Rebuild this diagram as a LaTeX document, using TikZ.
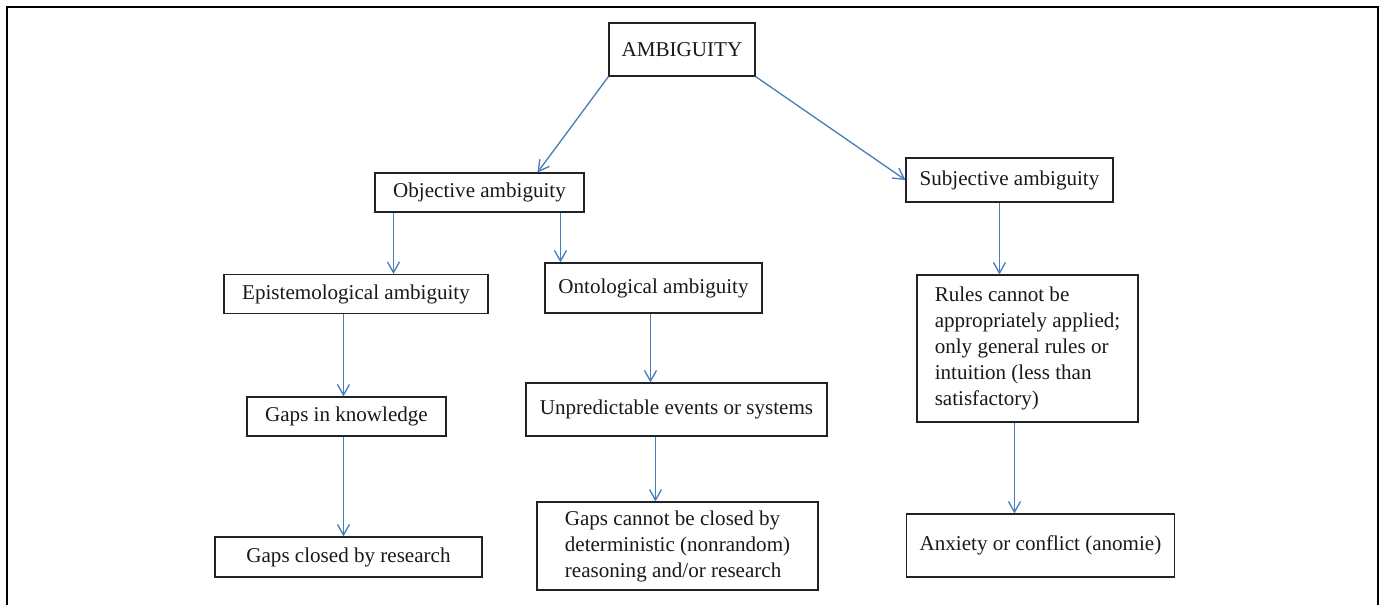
\documentclass[tikz,border=0pt]{standalone}
\usepackage{fontspec}
\setmainfont{Liberation Serif}
\usetikzlibrary{arrows.meta,calc}
\definecolor{arrblue}{HTML}{4A7EBB}
\definecolor{boxline}{HTML}{222222}
\begin{document}
\begin{tikzpicture}[x=0.75pt,y=-0.75pt,
  box/.style={draw=boxline,line width=0.8pt,inner sep=0pt,align=left,
    font=\fontsize{15.8}{19.5}\selectfont,text=black!90},
  wh/.style 2 args={minimum width=#1*0.75pt,minimum height=#2*0.75pt},
  arr/.style={draw=arrblue,line width=1pt,-{Straight Barb[length=8pt,width=9pt,line width=1pt]}}]
\useasboundingbox (0,0) rectangle (1382,605);
\draw[line width=1.6pt] (7,605) -- (7,7) -- (1378,7) -- (1378,605);

\node[box,wh={146}{53}] (amb) at (682,49.5) {AMBIGUITY};
\node[box,wh={209}{39}] (obj) at (479.5,192.5) {Objective ambiguity};
\node[box,wh={207}{44}] (sub) at (1009.5,180) {Subjective ambiguity};
\node[box,wh={264}{39}] (epi) at (356,294) {Epistemological ambiguity};
\node[box,wh={217}{50}] (ont) at (653.5,288) {Ontological ambiguity};
\node[box,wh={199}{39}] (gk) at (346.5,416.5) {Gaps in knowledge};
\node[box,wh={301}{53}] (unp) at (676.5,409.5) {Unpredictable events or systems};
\node[box,wh={267}{40}] (gcr) at (348.5,557) {Gaps closed by research};
\node[box,wh={281}{88}] (gcn) at (677.5,546) {Gaps cannot be closed by\\deterministic (nonrandom)\\reasoning and/or research};
\node[box,wh={221}{147}] (rules) at (1027.5,348.5) {Rules cannot be\\appropriately applied;\\only general rules or\\intuition (less than\\satisfactory)};
\node[box,wh={268}{63}] (anx) at (1040.5,545.5) {Anxiety or conflict (anomie)};

\path ($(obj.north west)+(163,0)$) coordinate (objin);
\draw[arr] (amb.south west) -- (objin);
\draw[arr] (amb.south east) -- (sub.west);

\path ($(obj.south west)+(19,0)$) coordinate (o1);
\draw[arr] (o1) -- (o1 |- epi.north);
\path ($(obj.south west)+(186,0)$) coordinate (o2);
\draw[arr] (o2) -- (o2 |- ont.north);
\path ($(epi.south west)+(120,0)$) coordinate (e1);
\draw[arr] (e1) -- (e1 |- gk.north);
\path ($(ont.south west)+(106,0)$) coordinate (n1);
\draw[arr] (n1) -- (n1 |- unp.north);
\path ($(gk.south west)+(97,0)$) coordinate (g1);
\draw[arr] (g1) -- (g1 |- gcr.north);
\path ($(unp.south west)+(130,0)$) coordinate (u1);
\draw[arr] (u1) -- (u1 |- gcn.north);
\path ($(sub.south west)+(94,0)$) coordinate (s1);
\draw[arr] (s1) -- (s1 |- rules.north);
\path ($(rules.south west)+(98,0)$) coordinate (r1);
\draw[arr] (r1) -- (r1 |- anx.north);
\end{tikzpicture}
\end{document}
